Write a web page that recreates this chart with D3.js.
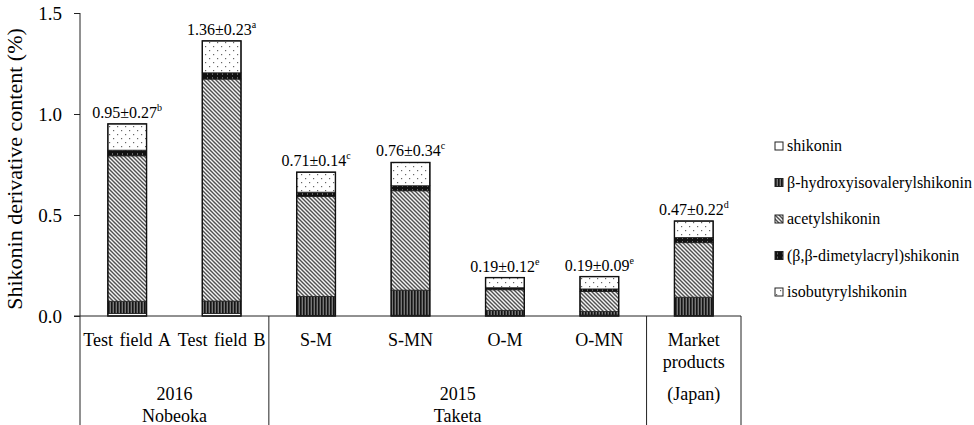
<!DOCTYPE html>
<html>
<head>
<meta charset="utf-8">
<script src="https://cdn.jsdelivr.net/npm/d3@7"></script>
<style>
  body { margin: 0; background: #fff; }
  svg text { font-family: "Liberation Serif", "Times New Roman", serif; }
</style>
</head>
<body>
<svg id="chart" width="974" height="425"></svg>
<script>
const categories = ["Test field A", "Test field B", "S-M", "S-MN", "O-M", "O-MN", "Market products"];
const seriesNames = ["shikonin", "β-hydroxyisovalerylshikonin", "acetylshikonin", "(β,β-dimetylacryl)shikonin", "isobutyrylshikonin"];
const shikonin = [0.013, 0.013, 0.003, 0.004, 0.003, 0.005, 0.002];
const hydroxy = [0.060, 0.061, 0.094, 0.124, 0.025, 0.017, 0.091];
const acetyl = [0.720, 1.099, 0.495, 0.492, 0.102, 0.099, 0.270];
const dimethyl = [0.028, 0.031, 0.021, 0.025, 0.010, 0.013, 0.026];
const isobutyryl = [0.130, 0.158, 0.099, 0.115, 0.050, 0.061, 0.081];
const totalLabels = ["0.95±0.27", "1.36±0.23", "0.71±0.14", "0.76±0.34", "0.19±0.12", "0.19±0.09", "0.47±0.22"];
const letters = ["b", "a", "c", "c", "e", "e", "d"];
const yTicks = [0, 0.5, 1.0, 1.5];
const groups = [
  { from: 0, to: 1, lines: ["2016", "Nobeoka"] },
  { from: 2, to: 5, lines: ["2015", "Taketa"] },
  { from: 6, to: 6, lines: ["(Japan)"] }
];

const svg = d3.select("#chart");
const plotLeft = 80, plotRight = 741, plotTop = 13, plotBottom = 316;
const ink = "#000";

const x = d3.scaleBand().domain(categories).range([plotLeft, plotRight]).padding(0);
const y = d3.scaleLinear().domain([0, 1.5]).range([plotBottom, plotTop]);
const bw = x.bandwidth() * 0.41;
const bx = (c) => x(c) + (x.bandwidth() - bw) / 2;

// fill patterns
const defs = svg.append("defs");
const pWhite = defs.append("pattern").attr("id", "p0").attr("patternUnits", "userSpaceOnUse").attr("width", 4).attr("height", 4);
pWhite.append("rect").attr("width", 4).attr("height", 4).attr("fill", "#fff");

const pVert = defs.append("pattern").attr("id", "p1").attr("patternUnits", "userSpaceOnUse").attr("width", 3).attr("height", 4);
pVert.append("rect").attr("width", 3).attr("height", 4).attr("fill", "#777");
pVert.append("rect").attr("width", 1.6).attr("height", 4).attr("fill", "#151515");

const pHatch = defs.append("pattern").attr("id", "p2").attr("patternUnits", "userSpaceOnUse").attr("width", 4).attr("height", 4);
pHatch.append("rect").attr("width", 4).attr("height", 4).attr("fill", "#f4f4f4");
pHatch.append("path").attr("d", "M-1,-1L5,5M3,-1L5,1M-1,3L1,5").attr("stroke", "#505050").attr("stroke-width", 1.4);

const pDark = defs.append("pattern").attr("id", "p3").attr("patternUnits", "userSpaceOnUse").attr("width", 5).attr("height", 4);
pDark.append("rect").attr("width", 5).attr("height", 4).attr("fill", "#111");
pDark.append("rect").attr("x", 2).attr("y", 1.5).attr("width", 1).attr("height", 1).attr("fill", "#bbb");

const pDots = defs.append("pattern").attr("id", "p4").attr("patternUnits", "userSpaceOnUse").attr("width", 8).attr("height", 8);
pDots.append("rect").attr("width", 8).attr("height", 8).attr("fill", "#fff");
pDots.append("rect").attr("x", 1).attr("y", 2).attr("width", 1.2).attr("height", 1.2).attr("fill", "#666");
pDots.append("rect").attr("x", 5).attr("y", 6).attr("width", 1.2).attr("height", 1.2).attr("fill", "#666");

const fills = ["url(#p0)", "url(#p1)", "url(#p2)", "url(#p3)", "url(#p4)"];

// stacked bars
const rows = categories.map((c, i) => ({
  cat: c, s0: shikonin[i], s1: hydroxy[i], s2: acetyl[i], s3: dimethyl[i], s4: isobutyryl[i]
}));
const total = (d) => d.s0 + d.s1 + d.s2 + d.s3 + d.s4;
const stack = d3.stack().keys(["s0", "s1", "s2", "s3", "s4"])(rows);

svg.append("g").selectAll("g")
  .data(stack)
  .join("g")
  .attr("fill", (_, i) => fills[i])
  .selectAll("rect")
  .data((d) => d)
  .join("rect")
  .attr("x", (d) => bx(d.data.cat))
  .attr("width", bw)
  .attr("y", (d) => y(d[1]))
  .attr("height", (d) => y(d[0]) - y(d[1]))
  .attr("stroke", "#222")
  .attr("stroke-width", 0.8);

// outline of whole bar
svg.append("g").selectAll("rect")
  .data(rows)
  .join("rect")
  .attr("x", (d) => bx(d.cat))
  .attr("width", bw)
  .attr("y", (d) => y(total(d)))
  .attr("height", (d) => plotBottom - y(total(d)))
  .attr("fill", "none")
  .attr("stroke", "#111")
  .attr("stroke-width", 1.4);

// value labels
const vl = svg.append("g").selectAll("text")
  .data(rows)
  .join("text")
  .attr("x", (d) => x(d.cat) + x.bandwidth() / 2)
  .attr("y", (d) => y(total(d)) - 6)
  .attr("text-anchor", "middle")
  .attr("font-size", 16)
  .attr("fill", ink);
vl.append("tspan").text((_, i) => totalLabels[i]);
vl.append("tspan").attr("font-size", 10).attr("dy", -7).text((_, i) => letters[i]);

// y axis
const yAxis = svg.append("g")
  .attr("transform", `translate(${plotLeft},0)`)
  .call(d3.axisLeft(y).tickValues(yTicks).tickFormat(d3.format(".1f")).tickSize(6).tickSizeOuter(0));
yAxis.attr("font-family", null);
yAxis.select(".domain").remove();
yAxis.selectAll("line").attr("stroke", "#222");
yAxis.selectAll("text").attr("font-size", 19).attr("fill", ink).attr("x", -18);

svg.append("line").attr("x1", plotLeft).attr("x2", plotLeft).attr("y1", plotTop).attr("y2", 425).attr("stroke", "#222");
svg.append("line").attr("x1", plotLeft - 6).attr("x2", plotRight).attr("y1", plotBottom).attr("y2", plotBottom).attr("stroke", "#222");

svg.append("text")
  .attr("transform", "translate(22,169) rotate(-90)")
  .attr("text-anchor", "middle")
  .attr("font-size", 22)
  .attr("fill", ink)
  .text("Shikonin derivative content (%)");

// category labels
const catLabels = svg.append("g").selectAll("text")
  .data(categories)
  .join("text")
  .attr("x", (d) => x(d) + x.bandwidth() / 2)
  .attr("y", 346)
  .attr("text-anchor", "middle")
  .attr("font-size", 18)
  .attr("word-spacing", 2)
  .attr("fill", ink);
catLabels.each(function (d) {
  const t = d3.select(this);
  if (d === "Market products") {
    t.append("tspan").attr("x", x(d) + x.bandwidth() / 2).attr("dy", 0).text("Market");
    t.append("tspan").attr("x", x(d) + x.bandwidth() / 2).attr("dy", 22).text("products");
  } else {
    t.text(d);
  }
});

// group labels and dividers
groups.forEach((g) => {
  const x0 = x(categories[g.from]);
  const x1 = x(categories[g.to]) + x.bandwidth();
  const t = svg.append("text")
    .attr("text-anchor", "middle")
    .attr("font-size", 18)
    .attr("fill", ink)
    .attr("y", 400);
  g.lines.forEach((l, k) => {
    t.append("tspan").attr("x", (x0 + x1) / 2).attr("dy", k === 0 ? 0 : 22).text(l);
  });
  svg.append("line").attr("x1", x1).attr("x2", x1).attr("y1", plotBottom).attr("y2", 425).attr("stroke", "#222");
});

// legend
const legend = svg.append("g").attr("transform", "translate(775,146)");
const li = legend.selectAll("g")
  .data(seriesNames)
  .join("g")
  .attr("transform", (_, i) => `translate(0,${i * 36.5})`);
li.append("rect")
  .attr("x", 0).attr("y", -4).attr("width", 8).attr("height", 8)
  .attr("fill", (_, i) => fills[i])
  .attr("stroke", "#222").attr("stroke-width", 1);
li.append("text")
  .attr("x", 12).attr("y", 5)
  .attr("font-size", 16)
  .attr("fill", ink)
  .text((d) => d);
</script>
</body>
</html>
